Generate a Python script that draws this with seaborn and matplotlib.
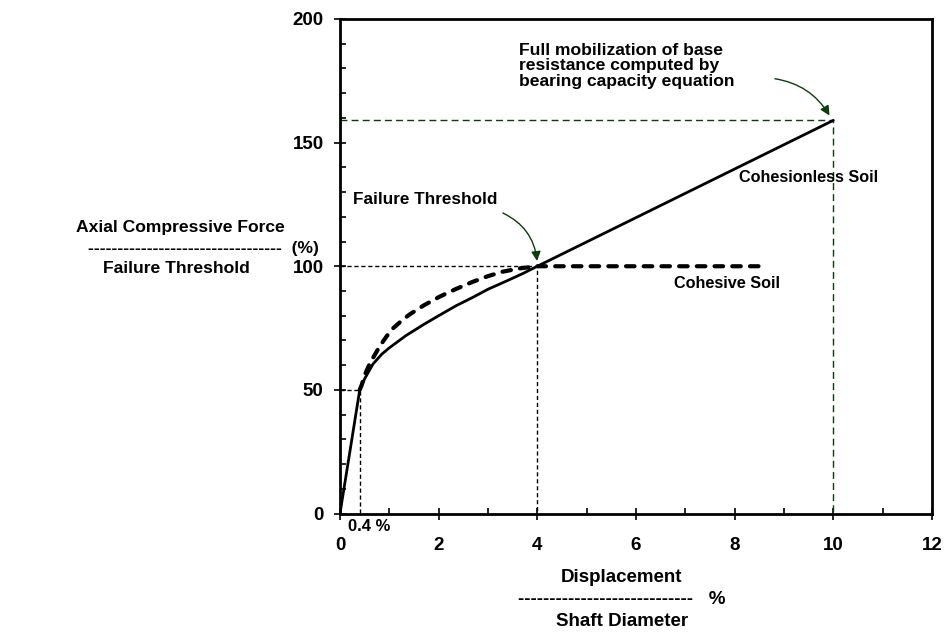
import matplotlib
matplotlib.use("Agg")
import matplotlib.pyplot as plt
import seaborn as sns
import pandas as pd
from matplotlib.ticker import MultipleLocator

# ------------------------------------------------
# data
# ------------------------------------------------
# cohesionless soil (solid line)
sand_disp = [0.0, 0.4, 0.5, 0.67, 0.85, 1.0, 1.34, 1.7, 2.0, 2.35, 2.7, 3.0,
             3.35, 3.7, 4.0, 10.0]
sand_force = [0.0, 50.0, 54.5, 60.5, 64.5, 67.0, 72.0, 76.5, 80.0, 84.0, 87.5,
              90.7, 93.8, 97.0, 100.0, 159.0]

# cohesive soil (thick dashed line)
clay_disp = [0.4, 0.44, 0.5, 0.6, 0.7, 0.81, 0.95, 1.07, 1.25, 1.41, 1.7, 2.02,
             2.35, 2.69, 3.0, 3.3, 3.63, 4.0, 8.55]
clay_force = [50.0, 52.0, 56.0, 60.5, 64.0, 67.8, 71.8, 74.8, 78.0, 80.5, 84.2,
              87.7, 90.8, 93.7, 96.0, 97.8, 99.1, 100.0, 100.0]

# reference points
elastic_disp, elastic_force = 0.4, 50.0
failure_disp, failure_force = 4.0, 100.0
base_disp, base_force = 10.0, 159.0

x_ticks = [0, 2, 4, 6, 8, 10, 12]
y_ticks = [0, 50, 100, 150, 200]

sand = pd.DataFrame({"disp": sand_disp, "force": sand_force})
clay = pd.DataFrame({"disp": clay_disp, "force": clay_force})

sns.set_style("ticks")
plt.rcParams["font.family"] = ["Liberation Sans", "DejaVu Sans"]
plt.rcParams["font.weight"] = "bold"
plt.rcParams["text.color"] = "black"
plt.rcParams["xtick.color"] = "black"
plt.rcParams["ytick.color"] = "black"
plt.rcParams["axes.edgecolor"] = "black"

W, H = 945, 633
fig = plt.figure(figsize=(W / 100, H / 100), dpi=100)
ax = fig.add_axes([340 / W, 1 - 513.5 / H, (932 - 340) / W, (513.5 - 19) / H])

green = "#0b3d0b"

# guide lines
ax.plot([0, elastic_disp, elastic_disp], [elastic_force, elastic_force, 0],
        color="black", lw=1, ls=(0, (3, 2)))
ax.plot([0, failure_disp, failure_disp], [failure_force, failure_force, 0],
        color="black", lw=1, ls=(0, (3, 2)))
ax.plot([0, base_disp, base_disp], [base_force, base_force, 0],
        color=green, lw=1, ls=(0, (5, 3)))

# curves
sns.lineplot(data=sand, x="disp", y="force", ax=ax, color="black", lw=2,
             sort=False, estimator=None)
sns.lineplot(data=clay, x="disp", y="force", ax=ax, color="black", lw=3,
             sort=False, estimator=None, dashes=False,
             ls=(0, (2.05, 2.2)), dash_capstyle="round")

ax.set_xlim(0, 12)
ax.set_ylim(0, 200)
ax.set_xticks(x_ticks)
ax.set_yticks(y_ticks)
ax.xaxis.set_minor_locator(MultipleLocator(1))
ax.yaxis.set_minor_locator(MultipleLocator(10))
ax.tick_params(which="major", direction="inout", length=8, width=1.2,
               labelsize=13.5)
ax.tick_params(axis="x", which="major", pad=13)
ax.tick_params(axis="y", which="major", pad=7.8)
ax.tick_params(which="minor", direction="in", length=4, width=1.2)
for lab in ax.get_xticklabels() + ax.get_yticklabels():
    lab.set_fontweight("bold")
for sp in ax.spines.values():
    sp.set_linewidth(2)
    sp.set_visible(True)
ax.set_xlabel("")
ax.set_ylabel("")

# annotations
ax.text(0.27, 127, "Failure Threshold", fontsize=12.3, fontweight="bold",
        va="center", ha="left")
ax.annotate("", xy=(failure_disp, failure_force + 1), xytext=(3.25, 122),
            arrowprops=dict(arrowstyle="-|>", color=green, lw=1,
                            connectionstyle="arc3,rad=-0.3", mutation_scale=14))
ax.text(3.62, 181, "Full mobilization of base\nresistance computed by\nbearing capacity equation",
        fontsize=12.6, fontweight="bold", va="center", ha="left", linespacing=1.03)
ax.annotate("", xy=(base_disp - 0.05, base_force + 1), xytext=(8.76, 176),
            arrowprops=dict(arrowstyle="-|>", color=green, lw=1,
                            connectionstyle="arc3,rad=-0.25", mutation_scale=14))
ax.text(9.5, 136, "Cohesionless Soil", fontsize=11.7, fontweight="bold",
        ha="center", va="center")
ax.text(7.85, 93, "Cohesive Soil", fontsize=11.7, fontweight="bold",
        ha="center", va="center")
ax.text(0.16, -5.1, "0.4 %", fontsize=12, fontweight="bold", ha="left",
        va="center")


# axis titles built as fractions
def ftxt(x, y, s, size=12.6, **kw):
    fig.text(x / W, 1 - y / H, s, fontsize=size, fontweight="bold",
             va="center", **kw)


ftxt(180, 228, "Axial Compressive Force", ha="center")
ftxt(88, 248, "-" * 33 + "  (%)", ha="left")
ftxt(176, 268, "Failure Threshold", ha="center")

ftxt(622, 577, "Displacement", size=13.5, ha="center")
ftxt(518, 600, "-" * 28 + "   %", size=13.5, ha="left")
ftxt(622, 622, "Shaft Diameter", size=13.5, ha="center")

fig.savefig("out.png", dpi=100)
